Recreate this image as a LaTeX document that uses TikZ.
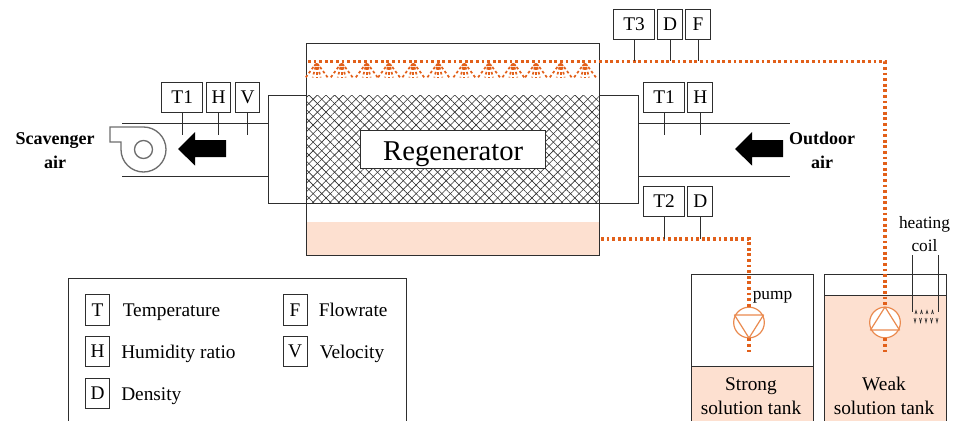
\documentclass[tikz,border=0pt]{standalone}
\usepackage{fontspec}
\setmainfont{Liberation Serif}
\usetikzlibrary{arrows.meta,patterns.meta}
\definecolor{Spray}{HTML}{E2601A}
\definecolor{Pump}{HTML}{EA8A4F}
\definecolor{Liquid}{HTML}{FDE0D0}
\definecolor{Ink}{HTML}{2E2E2E}

\begin{document}
\begin{tikzpicture}[
  x=0.75pt,y=-0.75pt,
  font=\fontsize{14.5}{16}\selectfont,
  wall/.style={draw=Ink,line width=0.75pt},
  liquid/.style={fill=Liquid,draw=none},
  wide/.style={draw=Ink,fill=white,line width=0.75pt,minimum width=30.5pt,minimum height=22.5pt,inner sep=0pt},
  narrow/.style={draw=Ink,fill=white,line width=0.75pt,minimum width=18.5pt,minimum height=22.5pt,inner sep=0pt},
  stub/.style={draw=Ink,line width=0.7pt},
  pipe/.style={draw=Spray,line width=2.4pt,dash pattern=on 2.1pt off 2.1pt},
  spray/.style={draw=Spray,line width=1.3pt,dash pattern=on 2pt off 1.8pt},
  pumpring/.style={circle,draw=Pump,fill=white,line width=0.9pt,minimum size=23pt,inner sep=0pt},
  blockarrow/.style={fill=black,draw=none},
  airlabel/.style={font=\fontsize{13.5}{15}\selectfont\bfseries,align=center},
  tanklabel/.style={align=center,font=\fontsize{14.5}{18}\selectfont},
  legendtext/.style={anchor=base west,inner sep=0pt}
]
\useasboundingbox (0,0) rectangle (957,421);

% Regenerator body, packing and sump.
\fill[liquid] (306.5,222) rectangle (599.5,255);
\fill[pattern={Lines[angle=45,distance=4.55pt,line width=0.45pt]},pattern color=Ink]
  (306.5,95) rectangle (599.5,203);
\fill[pattern={Lines[angle=-45,distance=4.55pt,line width=0.45pt]},pattern color=Ink]
  (306.5,95) rectangle (599.5,203);
\draw[wall] (306.5,43) rectangle (599.5,255);
\node[draw=Ink,fill=white,line width=0.75pt,minimum width=139pt,minimum height=29pt,inner sep=0pt,
  text height=17pt,text depth=1.2pt,font=\fontsize{21.5}{24}\selectfont] (regen) at (453.2,149.5) {Regenerator};

% Ducts on both sides.
\draw[wall] (306.5,95) -- (268,95) -- (268,203) -- (638.5,203) -- (638.5,95) -- (599.5,95);
\draw[wall] (122,123) -- (268,123);
\draw[wall] (122,176.5) -- (268,176.5);
\draw[wall] (638.5,123) -- (790,123);
\draw[wall] (638.5,176.5) -- (790,176.5);

% Blower and air direction.
\draw[draw=Ink!70,line width=1pt] (110,127) -- (143.5,127) arc (-90:180:22.5) -- (121,142) -- (110,142) -- cycle;
\node[circle,draw=Ink!70,line width=1pt,minimum size=13.5pt,inner sep=0pt] (blower) at (143.5,149.5) {};
\fill[blockarrow] (178,149) -- (195,132) -- (195,140) -- (226,140) -- (226,157) -- (195,157) -- (195,165.5) -- cycle;
\fill[blockarrow] (735,149) -- (752,132) -- (752,140) -- (783,140) -- (783,157) -- (752,157) -- (752,165.5) -- cycle;
\node[airlabel] (scavenger) at (55,150.5) {Scavenger\\[3pt]air};
\node[airlabel] (outdoor) at (822,150.5) {Outdoor\\[3pt]air};

% Tanks.
\fill[liquid] (691,366.5) rectangle (813.5,421);
\fill[liquid] (824,295) rectangle (946,421);
\draw[wall] (691,421) -- (691,274) -- (813.5,274) -- (813.5,421);
\draw[wall] (691,366.5) -- (813.5,366.5);
\draw[wall] (824,421) -- (824,274) -- (946,274) -- (946,421);
\draw[wall] (824,295) -- (946,295);
\node[tanklabel] (strong) at (751,396) {Strong\\solution tank};
\node[tanklabel] (weak) at (884,396) {Weak\\solution tank};

% Solution lines and pumps.
\node[pumpring] (spump) at (749,322.5) {};
\node[pumpring] (wpump) at (885,322.5) {};
\coordinate (spipein) at (601,239);
\coordinate (sdrop) at (749,355);
\coordinate (wdrop) at (885,355);
\coordinate (wspray) at (308,61.5);
\draw[pipe] (spipein) -- (749,239) -- (spump.north);
\draw[pipe] (spump.south) -- (sdrop);
\draw[pipe] (wspray) -- (885,61.5) -- (wpump.north);
\draw[pipe] (wpump.south) -- (wdrop);
\draw[draw=Pump,line width=0.9pt,line join=round] (734.5,315) -- (763.5,315) -- (749,338) -- cycle;
\draw[draw=Pump,line width=0.9pt,line join=round] (870.5,330) -- (899.5,330) -- (885,307) -- cycle;
\node[font=\fontsize{13}{15}\selectfont] (pumplabel) at (772.5,297) {pump};

% Spray nozzles.
\foreach \x in {316.7,341.7,366.7,389,413.3,438.3,464.3,489,513.3,536,560.7,585} {
  \fill[Spray] (\x-3,66) arc (180:360:3) -- cycle;
  \foreach \d in {-11,-4,0,4,11}
    \draw[spray] (\x+\d*0.3,67) -- (\x+\d,77.5);
}

% Heating coil.
\node[align=center,font=\fontsize{13}{17}\selectfont] (coillabel) at (924.5,234) {heating\\coil};
\coordinate (coilleft) at (912.7,312);
\coordinate (coilright) at (938.7,312);
\draw[stub] (912.7,255) -- (coilleft);
\draw[stub] (938.7,255) -- (coilright);
\foreach \x in {916,921.5,927,932.5} {
  \draw[Ink,line width=0.5pt] (\x-1,314) -- (\x,310.5) -- (\x+1,314);
}
\foreach \x in {915,920.5,926,931.5,937} {
  \draw[Ink,line width=0.5pt] (\x-1,318) -- (\x,322.5) -- (\x+1,318);
}

% Sensors.
\foreach \name/\txt/\style/\x/\y/\yend in {
  lt/T1/wide/182.2/97/135, lh/H/narrow/218.5/97/135, lv/V/narrow/247.5/97/135,
  tt/T3/wide/634/24/61, td/D/narrow/670/24/61, tf/F/narrow/698/24/61,
  rt/T1/wide/664/97/135, rh/H/narrow/700.3/97/135,
  bt/T2/wide/664/201/239, bd/D/narrow/700.3/201/239} {
  \node[\style] (\name) at (\x,\y) {\txt};
  \coordinate (\name end) at (\x,\yend);
  \draw[stub] (\name) -- (\name end);
}

% Legend.
\draw[wall] (68.5,421) -- (68.5,278.5) -- (406.5,278.5) -- (406.5,421);
\foreach \name/\txt/\desc/\x/\y/\tx in {
  t/T/Temperature/97.5/310/122.5, h/H/Humidity ratio/97.5/351.5/121, d/D/Density/97.5/393.5/121,
  f/F/Flowrate/295/310/318.5, v/V/Velocity/295/351.5/319.5} {
  \node[draw=Ink,line width=0.75pt,minimum width=18pt,minimum height=23pt,inner sep=0pt] (key\name) at (\x,\y) {\txt};
  \node[legendtext] (text\name) at (\tx,\y+6.5) {\desc};
}
\end{tikzpicture}
\end{document}
